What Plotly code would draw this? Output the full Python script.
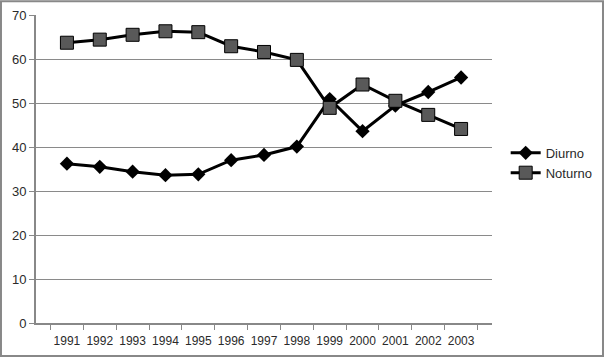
import plotly.graph_objects as go

years = ["1991","1992","1993","1994","1995","1996","1997","1998","1999","2000","2001","2002","2003"]
diurno = [36.2, 35.5, 34.4, 33.6, 33.8, 37.0, 38.2, 40.1, 50.9, 43.6, 49.4, 52.5, 55.8]
noturno = [63.7, 64.4, 65.5, 66.3, 66.1, 62.9, 61.6, 59.8, 48.9, 54.2, 50.5, 47.3, 44.1]

fig = go.Figure()
fig.add_trace(go.Scatter(x=years, y=diurno, name="Diurno", mode="lines+markers",
                         line=dict(color="black", width=3),
                         marker=dict(symbol="diamond", size=11, color="black")))
fig.add_trace(go.Scatter(x=years, y=noturno, name="Noturno", mode="lines+markers",
                         line=dict(color="black", width=3),
                         marker=dict(symbol="square", size=13, color="#595959",
                                     line=dict(color="black", width=1))))

fig.update_layout(
    width=604, height=358,
    margin=dict(l=36, r=112, t=15, b=35, autoexpand=False),
    paper_bgcolor="white", plot_bgcolor="white",
    font=dict(family="Liberation Sans, Arial, sans-serif", size=12, color="#2a2a2a"),
    legend=dict(x=1.03, y=0.52, xanchor="left", yanchor="middle",
                font=dict(size=13), tracegroupgap=4, itemwidth=30),
    shapes=[dict(type="rect", xref="paper", yref="paper", x0=-0.0768, x1=1.2434, y0=-0.107, y1=1.045,
                 line=dict(color="#888888", width=2))],
)
fig.update_xaxes(type="category", showline=True, linecolor="#888888", linewidth=2,
                 ticks="outside", tickson="boundaries", ticklen=5, tickcolor="#888888",
                 showgrid=False, tickangle=0, automargin=False, ticklabelstandoff=6,
                 tickfont=dict(size=12))
fig.update_yaxes(range=[0, 70], dtick=10, showline=True, linecolor="#888888", linewidth=2,
                 ticks="outside", ticklen=5, tickcolor="#888888", automargin=False,
                 showgrid=True, gridcolor="#8a8a8a", gridwidth=1, zeroline=False,
                 tickfont=dict(size=13))

fig.write_html("out.html", config={"displayModeBar": False},
               post_script="document.body.style.margin='0';document.body.style.overflow='hidden';")
